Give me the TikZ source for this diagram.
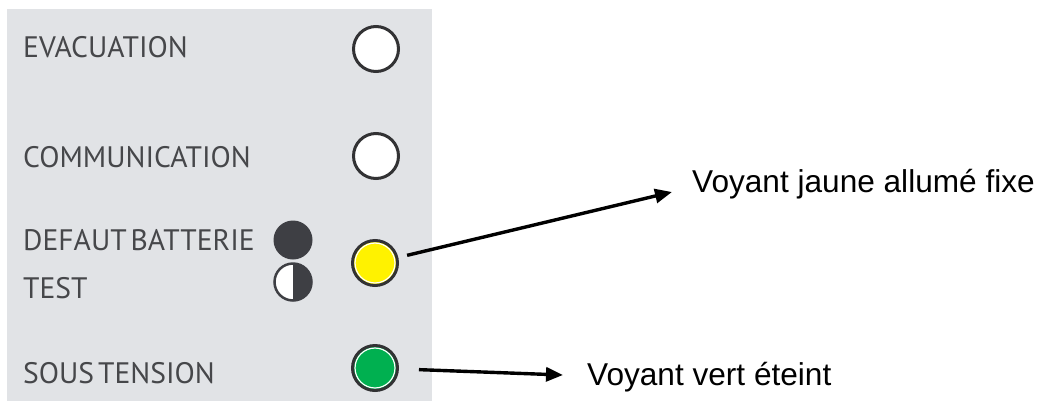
\documentclass[tikz,border=0pt]{standalone}
\usepackage{fontspec}
\setmainfont{Liberation Sans}
\newfontfamily\panelfont[WordSpace=0.5]{PT Sans}
\usetikzlibrary{arrows.meta}
\definecolor{panelgray}{RGB}{225,227,230}
\definecolor{paneltext}{RGB}{70,71,74}
\definecolor{ringgray}{RGB}{50,50,52}
\definecolor{dotgray}{RGB}{62,63,68}
\definecolor{ledgreen}{RGB}{0,176,80}
\tikzset{
  lamp/.style={circle, draw=ringgray, line width=3pt, fill=white, minimum size=45pt, inner sep=0pt},
  lit/.style={lamp, fill=#1, path picture={\draw[white, line width=1.2pt] (path picture bounding box.center) circle (20pt);}},
  dot/.style={circle, fill=dotgray, minimum size=39pt, inner sep=0pt},
  halfdot/.style={circle, draw=dotgray, line width=2.5pt, fill=white, minimum size=37pt, inner sep=0pt,
    path picture={\fill[dotgray] (path picture bounding box.north) rectangle (path picture bounding box.south east);}},
  label/.style={anchor=base west, inner sep=0pt, text=paneltext, font=\panelfont\fontsize{29.6}{32}\selectfont},
  note/.style={anchor=base west, inner sep=0pt, font=\fontsize{31.6}{34}\selectfont},
  fleche/.style={line width=3.4pt, -{Triangle[length=17pt,width=14pt]}}
}
\begin{document}
\begin{tikzpicture}[x=1pt,y=-1pt]
\useasboundingbox (0,0) rectangle (1040,410);
\fill[panelgray] (7,9) rectangle (432,401);

\node[label] (evacuation) at (23,57) {EVACUATION};
\node[label] (communication) at (23,167) {COMMUNICATION};
\node[label] (defaut) at (23,250) {DEFAUT BATTERIE};
\node[label] (test) at (23,298) {TEST};
\node[label] (soustension) at (23,383) {SOUS TENSION};

\node[lamp] (evac) at (376,49) {};
\node[lamp] (comm) at (376,156) {};
\node[lit=yellow] (batt) at (375,263) {};
\node[lit=ledgreen] (tension) at (375,368) {};
\node[dot] (defautdot) at (293,240) {};
\node[halfdot] (testdot) at (293,282) {};

\node[note] (jaune) at (692,192) {Voyant jaune allumé fixe};
\node[note] (vert) at (587,385) {Voyant vert éteint};
\coordinate (jaunetip) at ([xshift=-20pt]jaune.base west);
\coordinate (verttip) at ([shift={(-24pt,10pt)}]vert.base west);

\draw[fleche, shorten <=9pt] (batt) -- (jaunetip);
\draw[fleche, shorten <=20pt] (tension) -- (verttip);
\end{tikzpicture}
\end{document}
